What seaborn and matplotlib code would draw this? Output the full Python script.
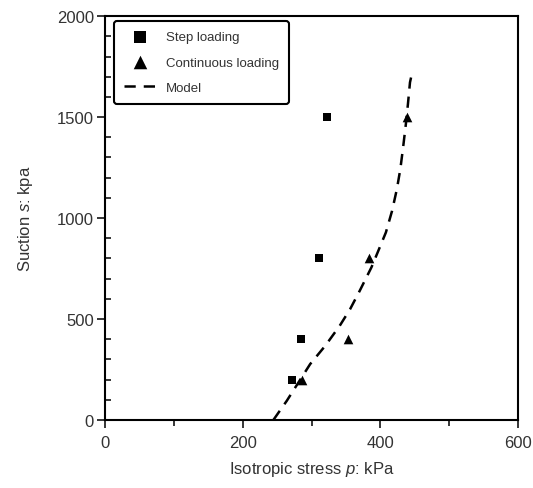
import numpy as np
import pandas as pd
import matplotlib
matplotlib.use("Agg")
import matplotlib.pyplot as plt
import seaborn as sns

# Step loading (squares)
step_p = [271, 284, 311, 323]
step_s = [200, 400, 800, 1500]

# Continuous loading (triangles)
cont_p = [286, 353, 384, 438]
cont_s = [200, 400, 800, 1500]

# Model curve
model_p = [244.5, 264, 298, 320, 341, 356, 370, 387, 397, 408, 417, 424, 429, 433, 437, 440, 443, 445]
model_s = [0, 95, 277, 368, 467, 549, 640, 756, 838, 929, 1036, 1144, 1243, 1350, 1465, 1564, 1672, 1703]

sns.set_style("ticks")
plt.rcParams['font.family'] = ['Liberation Sans', 'DejaVu Sans']
plt.rcParams['mathtext.fontset'] = 'custom'
plt.rcParams['mathtext.it'] = 'Liberation Sans:italic'
plt.rcParams['mathtext.rm'] = 'Liberation Sans'

txt = "#333333"

fig = plt.figure(figsize=(5.33, 4.89), dpi=100)
ax = fig.add_axes([0.197, 0.139, 0.775, 0.826])

step_df = pd.DataFrame({"p": step_p, "s": step_s})
cont_df = pd.DataFrame({"p": cont_p, "s": cont_s})
model_df = pd.DataFrame({"p": model_p, "s": model_s})

sns.scatterplot(data=step_df, x="p", y="s", marker="s", color="black", s=34,
                edgecolor="black", linewidth=0, label="Step loading", ax=ax, zorder=3)
sns.scatterplot(data=cont_df, x="p", y="s", marker="^", color="black", s=48,
                edgecolor="black", linewidth=0, label="Continuous loading", ax=ax, zorder=3)
sns.lineplot(data=model_df, x="p", y="s", color="black", linewidth=1.8,
             linestyle=(0, (4.5, 3.2)), sort=False, label="Model", ax=ax)

ax.set_xlim(0, 600)
ax.set_ylim(0, 2000)
ax.set_xticks([0, 200, 400, 600])
ax.set_xticks([100, 300, 500], minor=True)
ax.set_yticks([0, 500, 1000, 1500, 2000])
ax.set_yticks(np.arange(0, 2001, 100), minor=True)

ax.tick_params(axis="x", which="major", direction="out", length=6, width=1.3,
               labelsize=12, labelcolor=txt, pad=5)
ax.tick_params(axis="x", which="minor", direction="out", length=4, width=1.3)
ax.tick_params(axis="y", which="major", direction="out", length=6, width=1.3,
               labelsize=12, labelcolor=txt, pad=2)
ax.tick_params(axis="y", which="minor", direction="in", length=4, width=1.3)

for sp in ax.spines.values():
    sp.set_visible(True)
    sp.set_linewidth(1.5)
    sp.set_color("black")

ax.set_xlabel("Isotropic stress $p$: kPa", fontsize=12, color=txt, labelpad=6)
ax.set_ylabel("Suction $s$: kpa", fontsize=12, color=txt, labelpad=16)

leg = ax.legend(loc="upper left", fontsize=9.5, frameon=True, fancybox=True,
                handlelength=2.4, handletextpad=0.75, borderpad=0.75,
                labelspacing=1.0, borderaxespad=0,
                bbox_to_anchor=(0.022, 0.988))
leg.get_frame().set_edgecolor("black")
leg.get_frame().set_linewidth(1.5)
leg.get_frame().set_alpha(1)
for t in leg.get_texts():
    t.set_color(txt)
hs = leg.legend_handles
hs[0].set_sizes([75])
hs[1].set_sizes([95])

fig.savefig("out.png", dpi=100)
